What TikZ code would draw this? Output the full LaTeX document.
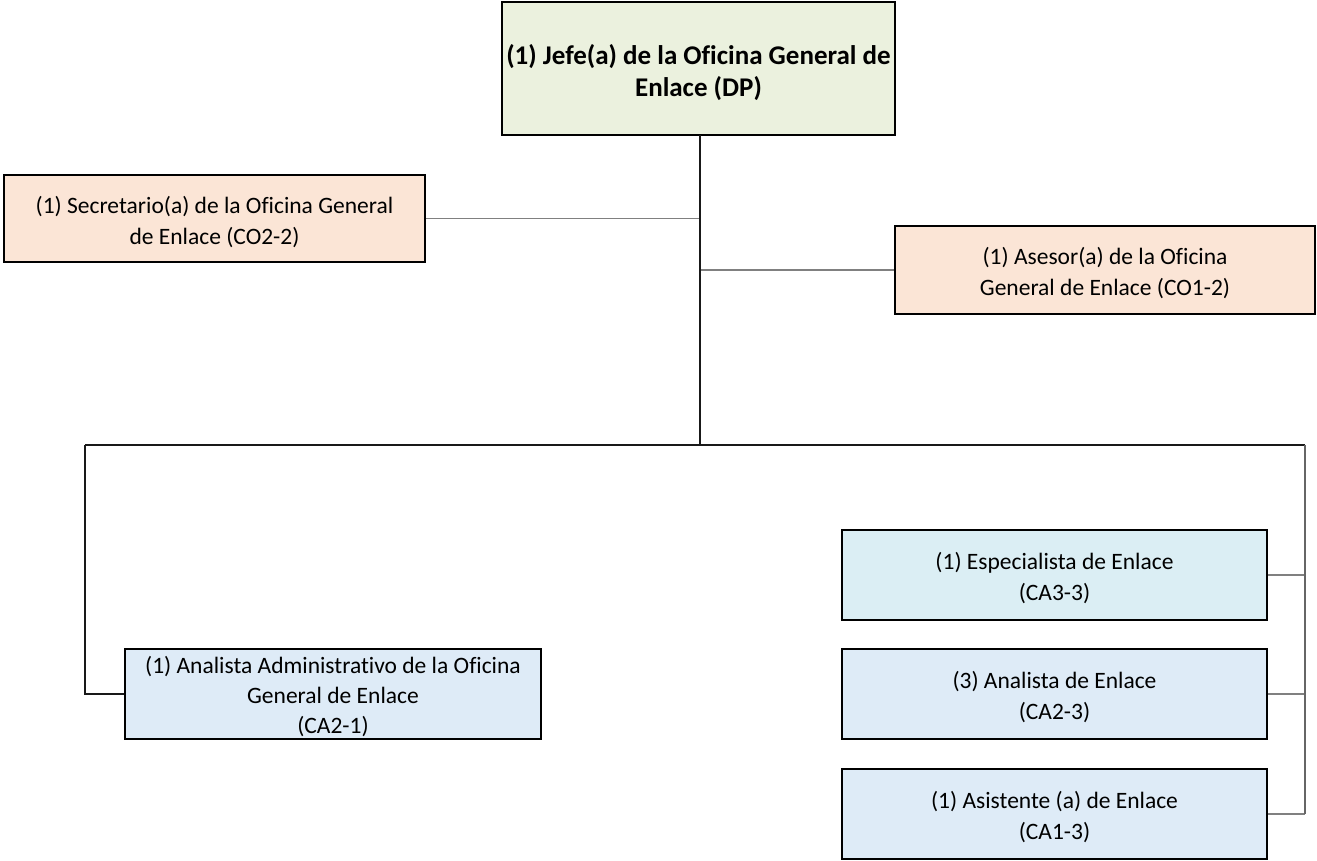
\documentclass[tikz,border=0pt]{standalone}
\usepackage{fontspec}
\setmainfont{Carlito}[Ligatures=NoCommon]
\newcommand{\upstrut}[1]{\rule{0pt}{#1}}
\begin{document}
\begin{tikzpicture}[x=1pt,y=-1pt,
  box/.style={draw=black,line width=2pt,align=center,inner sep=0pt,
    font=\fontsize{23.5}{31}\selectfont},
  thick conn/.style={draw=black!90,line width=2pt},
  thin conn/.style={draw=black!50,line width=1.6pt}]
\useasboundingbox (0,0) rectangle (1317,861);
\definecolor{cTop}{HTML}{EBF1DE}
\definecolor{cPeach}{HTML}{FBE5D6}
\definecolor{cCyan}{HTML}{DBEEF4}
\definecolor{cBlue}{HTML}{DEEBF7}
\node[box,fill=cTop,minimum width=393pt,minimum height=133pt,
  font=\bfseries\fontsize{27}{32}\selectfont] (top) at (698.5,68.5)
  {\upstrut{28pt}(1) Jefe(a) de la Oficina General de\\Enlace (DP)};
\node[box,fill=cPeach,minimum width=421pt,minimum height=87pt] (sec) at (214.5,218.5)
  {\upstrut{24pt}(1) Secretario(a) de la Oficina General\\de Enlace (CO2-2)};
\node[box,fill=cPeach,minimum width=420pt,minimum height=88pt] (ase) at (1105,270)
  {\upstrut{24pt}(1) Asesor(a) de la Oficina\\General de Enlace (CO1-2)};
\node[box,fill=cCyan,minimum width=425pt,minimum height=90pt] (esp) at (1054.5,575)
  {\upstrut{24pt}(1) Especialista de Enlace\\(CA3-3)};
\node[box,fill=cBlue,minimum width=425pt,minimum height=90pt] (ana) at (1054.5,694)
  {\upstrut{24pt}(3) Analista de Enlace\\(CA2-3)};
\node[box,fill=cBlue,minimum width=425pt,minimum height=90pt] (asi) at (1054.5,814)
  {\upstrut{24pt}(1) Asistente (a) de Enlace\\(CA1-3)};
\node[box,fill=cBlue,minimum width=416pt,minimum height=90pt,
  font=\fontsize{23.5}{30}\selectfont] (adm) at (333,694)
  {\upstrut{22pt}(1) Analista Administrativo de la Oficina\\General de Enlace\\(CA2-1)};
\coordinate (t0) at (700,135);
\coordinate (hub) at (700,445);
\coordinate (lc) at (85,445);
\coordinate (rc) at (1305,445);
\coordinate (ts) at (700,218.5);
\coordinate (ta) at (700,270);
\draw[thin conn] (sec.east) -- (ts);
\draw[thin conn] (ta) -- (ase.west);
\draw[thin conn] (esp.east) -- (esp.east -| rc);
\draw[thin conn] (ana.east) -- (ana.east -| rc);
\draw[thin conn] (asi.east) -- (asi.east -| rc);
\draw[thick conn] (t0) -- (hub);
\draw[thick conn] (lc) -- (rc);
\draw[thick conn] (lc) |- (adm.west);
\draw[draw=black!60,line width=1.6pt] (rc) -- (asi.east -| rc);
\end{tikzpicture}
\end{document}
